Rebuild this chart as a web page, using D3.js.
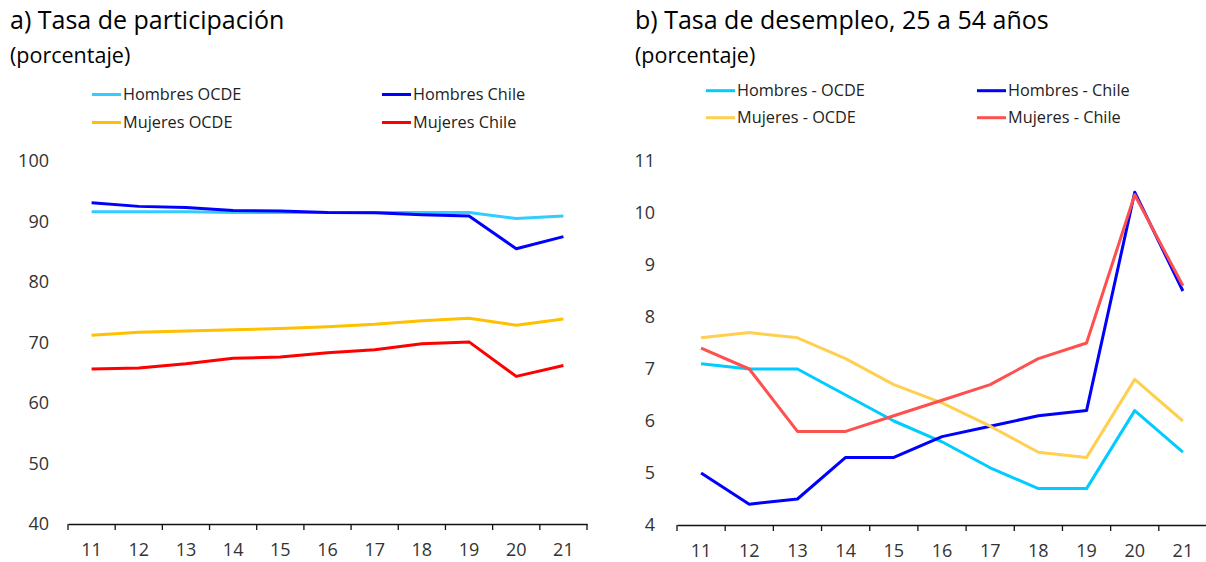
<!DOCTYPE html>
<html><head><meta charset="utf-8">
<script src="https://cdn.jsdelivr.net/npm/d3@7"></script>
<style>
html,body{margin:0;padding:0;background:#fff;}
svg{display:block;font-family:"Open Sans",Lato,sans-serif;}
</style></head>
<body>
<svg id="chart" width="1206" height="562"></svg>
<script>
const years = ["11","12","13","14","15","16","17","18","19","20","21"];

// Panel a: participation rate
const partHombresOCDE = [91.6,91.6,91.6,91.5,91.5,91.5,91.5,91.5,91.5,90.5,90.9];
const partHombresChile = [93.1,92.5,92.3,91.8,91.75,91.5,91.45,91.1,90.9,85.5,87.5];
const partMujeresOCDE = [71.2,71.7,71.9,72.1,72.3,72.6,73.0,73.6,74.0,72.85,73.9];
const partMujeresChile = [65.6,65.8,66.5,67.4,67.6,68.3,68.8,69.8,70.1,64.4,66.2];
const partTicks = [40,50,60,70,80,90,100];

// Panel b: unemployment rate 25-54
const desHombresOCDE = [7.1,7.0,7.0,6.5,6.0,5.6,5.1,4.7,4.7,6.2,5.4];
const desHombresChile = [5.0,4.4,4.5,5.3,5.3,5.7,5.9,6.1,6.2,10.4,8.5];
const desMujeresOCDE = [7.6,7.7,7.6,7.2,6.7,6.35,5.9,5.4,5.3,6.8,6.0];
const desMujeresChile = [7.4,7.0,5.8,5.8,6.1,6.4,6.7,7.2,7.5,10.35,8.6];
const desTicks = [4,5,6,7,8,9,10,11];

const svg = d3.select("#chart");

function panel(cfg){
  const g = svg.append("g");
  g.append("text").attr("x",cfg.tx).attr("y",28.5).attr("font-size",25).attr("fill","#000").text(cfg.title);
  g.append("text").attr("x",cfg.tx).attr("y",63).attr("font-size",21.5).attr("fill","#000").text("(porcentaje)");

  const x = d3.scaleBand().domain(years).range([cfg.x0,cfg.x1]);
  const y = d3.scaleLinear().domain(cfg.domain).range([cfg.yb,cfg.yt]);

  const xa = g.append("g").attr("transform",`translate(0,${cfg.yb})`)
    .call(d3.axisBottom(x).tickSize(0).tickPadding(19));
  xa.select(".domain").attr("stroke","#111").attr("stroke-width",1.3);
  xa.selectAll("text").attr("font-size",18).attr("fill","#333").attr("font-family","Open Sans, sans-serif");
  const bounds = years.map(d=>x(d)).concat([cfg.x1]);
  xa.selectAll("line.bt").data(bounds).join("line").attr("class","bt")
    .attr("x1",d=>d).attr("x2",d=>d).attr("y1",0).attr("y2",6).attr("stroke","#111").attr("stroke-width",1.3);

  const ya = g.append("g").attr("transform",`translate(${cfg.yLabX},0)`)
    .call(d3.axisLeft(y).tickValues(cfg.ticks).tickFormat(d3.format("d")).tickSize(0).tickPadding(0));
  ya.select(".domain").remove();
  ya.selectAll("text").attr("font-size",18).attr("fill","#333").attr("font-family","Open Sans, sans-serif");

  const line = d3.line().x((d,i)=>x(years[i])+x.bandwidth()/2).y(d=>y(d));
  cfg.series.forEach(s=>{
    g.append("path").datum(s.values).attr("d",line).attr("fill","none")
      .attr("stroke",s.color).attr("stroke-width",3).attr("stroke-linejoin","round");
  });

  cfg.series.forEach(s=>{
    const lx = cfg.legX[s.col], ly = cfg.legY[s.row];
    g.append("line").attr("x1",lx).attr("x2",lx+29).attr("y1",ly).attr("y2",ly)
      .attr("stroke",s.color).attr("stroke-width",3);
    g.append("text").attr("x",lx+31).attr("y",ly).attr("dy","0.35em")
      .attr("font-size",16.3).attr("fill","#222").text(s.name);
  });
}

panel({
  title:"a) Tasa de participación", tx:10,
  x0:68, x1:587, yb:524, yt:161, domain:[40,100], ticks:partTicks, yLabX:49,
  legX:[92,382], legY:[94.5,122.5],
  series:[
    {name:"Hombres OCDE", values:partHombresOCDE, color:"#33CCFF", col:0,row:0},
    {name:"Hombres Chile", values:partHombresChile, color:"#0000FF", col:1,row:0},
    {name:"Mujeres OCDE", values:partMujeresOCDE, color:"#FFC000", col:0,row:1},
    {name:"Mujeres Chile", values:partMujeresChile, color:"#FF0000", col:1,row:1}
  ]
});

panel({
  title:"b) Tasa de desempleo, 25 a 54 años", tx:635,
  x0:677, x1:1207, yb:525, yt:161, domain:[4,11], ticks:desTicks, yLabX:655,
  legX:[706,977], legY:[90.7,117.7],
  series:[
    {name:"Hombres - OCDE", values:desHombresOCDE, color:"#00CCFF", col:0,row:0},
    {name:"Hombres - Chile", values:desHombresChile, color:"#0000FF", col:1,row:0},
    {name:"Mujeres - OCDE", values:desMujeresOCDE, color:"#FFD050", col:0,row:1},
    {name:"Mujeres - Chile", values:desMujeresChile, color:"#FF5050", col:1,row:1}
  ]
});
</script>
</body></html>
